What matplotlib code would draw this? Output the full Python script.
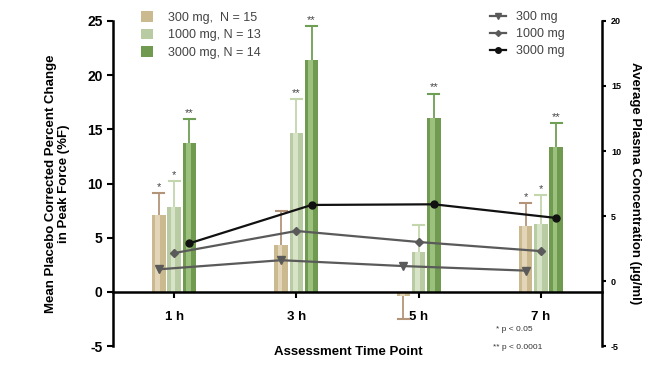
import numpy as np
import matplotlib.pyplot as plt
from matplotlib.patches import Patch
from matplotlib.lines import Line2D

plt.rcParams['font.family'] = ['Liberation Sans', 'DejaVu Sans']

# data
time_points = ['1 h', '3 h', '5 h', '7 h']
doses = ['300 mg', '1000 mg', '3000 mg']
bar_labels = ['300 mg,  N = 15', '1000 mg, N = 13', '3000 mg, N = 14']
force_300 = [7.1, 4.35, -0.35, 6.1]
force_1000 = [7.85, 14.7, 3.7, 6.3]
force_3000 = [13.75, 21.4, 16.0, 13.4]
err_300 = [2.0, 3.15, 2.2, 2.1]
err_1000 = [2.4, 3.1, 2.5, 2.6]
err_3000 = [2.2, 3.1, 2.3, 2.2]
stars_300 = ['*', '', '', '*']
stars_1000 = ['*', '**', '', '*']
stars_3000 = ['**', '**', '**', '**']
plasma_300 = [0.9, 1.6, 1.15, 0.8]
plasma_1000 = [2.15, 3.85, 3.0, 2.3]
plasma_3000 = [2.9, 5.85, 5.9, 4.85]

bar_colors = ['#cbb98f', '#b9cba3', '#6f9a50']
stripe_colors = ['#e3d6b8', '#d8e4c8', '#9cc07e']
err_colors = ['#b39478', '#c3d6ad', '#6f9e55']
line_colors = ['#5a5a5a', '#5a5a5a', '#111111']
markers = ['v', 'D', 'o']
msizes = [6, 4, 5]

fig = plt.figure(figsize=(6.51, 3.65), dpi=100)
ax = fig.add_axes([0.1736, 0.052, 0.7511, 0.8905])
ax.spines['bottom'].set_position(('data', 0))
x = np.arange(len(time_points))
w = 0.11
off = 0.125

forces = [force_300, force_1000, force_3000]
errs = [err_300, err_1000, err_3000]
stars = [stars_300, stars_1000, stars_3000]
for i in range(3):
    xi = x + (i - 1) * off
    vals = np.array(forces[i])
    e = np.array(errs[i])
    ax.bar(xi, vals, w, color=bar_colors[i], zorder=2)
    ax.bar(xi - w * 0.08, vals, w * 0.35, color=stripe_colors[i], zorder=2.1)
    for xx, v, ee, s in zip(xi, vals, e, stars[i]):
        end = v + ee if v >= 0 else v - ee
        ax.plot([xx, xx], [v, end], color=err_colors[i], lw=1.3, zorder=1.9)
        ax.plot([xx - 0.045, xx + 0.045], [end, end], color=err_colors[i], lw=1.5, zorder=1.9)
        if s:
            ax.text(xx, end + 0.1, s, ha='center', va='bottom', fontsize=8, color='#444444')

ax.set_xlim(-0.5, 3.5)
ax.set_ylim(-5, 25)
ax.set_yticks([-5, 0, 5, 10, 15, 20, 25])
ax.set_xticks(x)
ax.set_xticklabels(time_points, fontweight='bold')
ax.tick_params(axis='y', labelsize=10, width=1.5, length=4)
ax.tick_params(axis='x', labelsize=9.5, width=1.5, length=4, pad=10)
ax.set_yticklabels([str(v) for v in [-5, 0, 5, 10, 15, 20, 25]], fontweight='bold')
ax.spines['top'].set_visible(False)
ax.spines['right'].set_visible(False)
ax.spines['left'].set_linewidth(1.8)
ax.spines['bottom'].set_linewidth(1.8)
ax.set_ylabel('Mean Placebo Corrected Percent Change\nin Peak Force (%F)',
              fontweight='bold', fontsize=9.5, labelpad=12)

ax2 = ax.twinx()
ax2.set_ylim(-5, 20)
ax2.set_yticks([-5, 0, 5, 10, 15, 20])
ax2.set_yticklabels([str(v) for v in [-5, 0, 5, 10, 15, 20]], fontweight='bold')
ax2.tick_params(axis='y', labelsize=6.5, width=1.5, length=3)
for sp in ['top', 'left', 'bottom']:
    ax2.spines[sp].set_visible(False)
ax2.spines['right'].set_linewidth(1.8)
ax2.set_ylabel('Average Plasma Concentration (\u00b5g/ml)', rotation=270,
               fontweight='bold', fontsize=9.5, labelpad=14)

plasma = [plasma_300, plasma_1000, plasma_3000]
for i in range(3):
    ax2.plot(x + (i - 1) * off, plasma[i], color=line_colors[i], lw=1.6,
             marker=markers[i], ms=msizes[i], zorder=3)

fig.text(0.535, 0.035, 'Assessment Time Point', ha='center', va='center',
         fontweight='bold', fontsize=9.5)
fig.text(0.762, 0.097, '* p < 0.05', fontsize=6, color='#333333', va='center')
fig.text(0.757, 0.048, '** p < 0.0001', fontsize=6, color='#333333', va='center')

h1 = [Patch(facecolor=c, edgecolor='none') for c in bar_colors]
fig.legend(h1, bar_labels, loc='upper left', bbox_to_anchor=(0.2, 1.0),
           frameon=False, fontsize=9, handlelength=0.9, handleheight=0.9,
           labelspacing=0.4, handletextpad=1.2, labelcolor='#444444')
h2 = [Line2D([], [], color=c, marker=m, ms=s - 1, lw=1.6)
      for c, m, s in zip(line_colors, markers, msizes)]
fig.legend(h2, doses, loc='upper left', bbox_to_anchor=(0.735, 1.0),
           frameon=False, fontsize=9, handlelength=1.3,
           labelspacing=0.4, handletextpad=0.8, labelcolor='#444444')

fig.savefig('out.png', dpi=100)
